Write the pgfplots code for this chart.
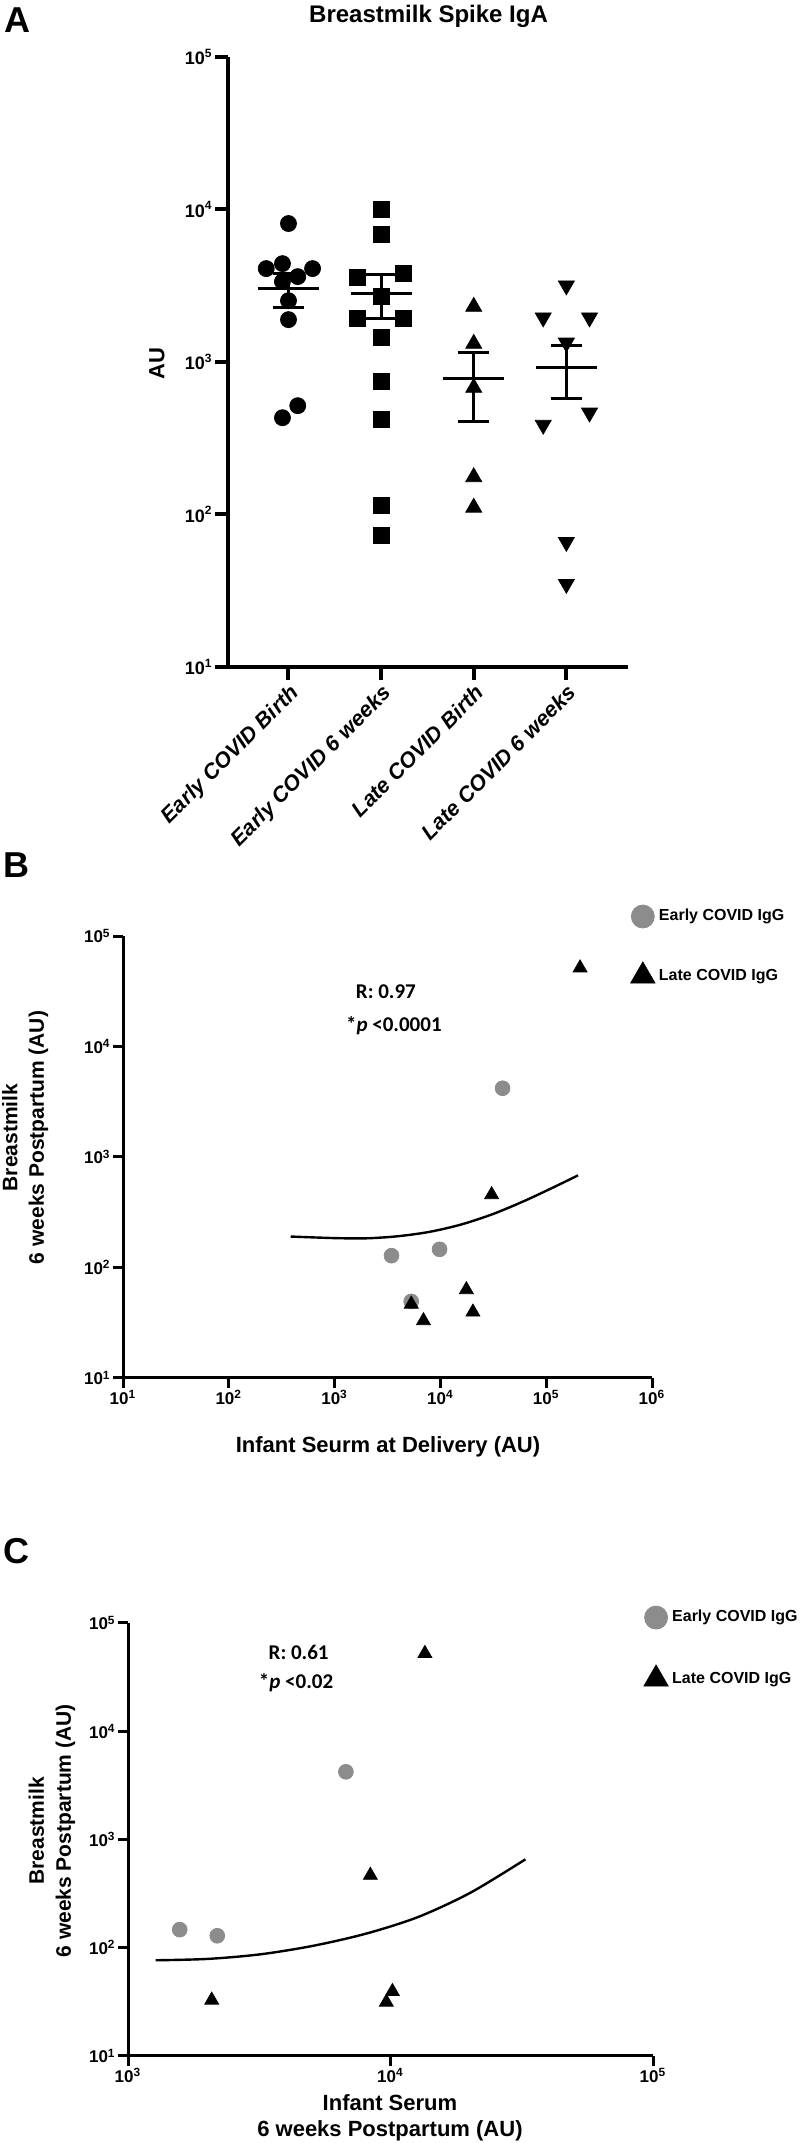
\documentclass[border=0pt]{standalone}
\usepackage{fontspec}
\setmainfont{Liberation Sans}
\newfontfamily\carlito{Carlito}
\usepackage{pgfplots}
\pgfplotsset{compat=1.18}
\definecolor{mygray}{RGB}{140,140,140}
\newcommand{\tl}[1]{10\textsuperscript{#1}}

\begin{document}
\begin{tikzpicture}
\useasboundingbox (0,0) rectangle (400pt,1071.5pt);

\node[anchor=base west, inner sep=0pt, font=\bfseries\fontsize{18}{18}\selectfont] at (2pt,1055pt) {A};
\node[anchor=base west, inner sep=0pt, font=\bfseries\fontsize{18}{18}\selectfont] at (1.5pt,632.5pt) {B};
\node[anchor=base west, inner sep=0pt, font=\bfseries\fontsize{18}{18}\selectfont] at (1.5pt,289.5pt) {C};

% ---------------- Panel A ----------------
\begin{axis}[
  at={(114pt,738pt)}, anchor=south west,
  scale only axis, width=199.75pt, height=305pt,
  ymode=log, ymin=10, ymax=100000,
  xmin=-0.653, xmax=3.66,
  axis x line=bottom, axis y line=left,
  axis line style={line width=2pt,-},
  tick style={line width=2pt, black},
  major tick length=6.5pt, tick align=outside,
  ytick={10,100,1000,10000,100000},
  yticklabels={\tl{1},\tl{2},\tl{3},\tl{4},\tl{5}},
  yminorticks=false,
  xtick={0,1,2,3},
  xticklabels={Early COVID Birth, Early COVID 6 weeks, Late COVID Birth, Late COVID 6 weeks},
  xticklabel style={rotate=45, anchor=north east, font=\bfseries\itshape\fontsize{10.8}{12}\selectfont, inner sep=1pt},
  yticklabel style={font=\bfseries\fontsize{9}{9}\selectfont, inner sep=1pt},
  ylabel={AU},
  ylabel style={at={(axis description cs:-0.178,0.498)}, anchor=center, font=\bfseries\fontsize{11}{11}\selectfont},
  clip=false,
]
\node[anchor=base, inner sep=0pt, font=\bfseries\fontsize{12}{12}\selectfont] at (axis description cs:0.502,1.057) {Breastmilk Spike IgA};
% mean and SEM
\addplot[black, line width=1.5pt, unbounded coords=jump] coordinates {
 (-0.33,3027) (0.33,3027) (0,nan) (0,2270) (0,3802) (0,nan)
 (-0.17,2270) (0.17,2270) (0,nan) (-0.17,3802) (0.17,3802)};
\addplot[black, line width=1.5pt, unbounded coords=jump] coordinates {
 (0.67,2805) (1.33,2805) (1,nan) (1,1923) (1,3740) (1,nan)
 (0.83,1923) (1.17,1923) (1,nan) (0.83,3740) (1.17,3740)};
\addplot[black, line width=1.5pt, unbounded coords=jump] coordinates {
 (1.67,776) (2.33,776) (2,nan) (2,405) (2,1151) (2,nan)
 (1.83,405) (2.17,405) (2,nan) (1.83,1151) (2.17,1151)};
\addplot[black, line width=1.5pt, unbounded coords=jump] coordinates {
 (2.67,916) (3.33,916) (3,nan) (3,574) (3,1279) (3,nan)
 (2.83,574) (3.17,574) (3,nan) (2.83,1279) (3.17,1279)};
% points
\addplot[only marks, mark=*, mark size=4pt, black] coordinates {
 (0,8090) (-0.065,4416) (-0.24,4096) (0.26,4096) (0.1,3628) (-0.065,3365)
 (0,2524) (0,1895) (0.1,517) (-0.065,431)};
\addplot[only marks, mark=square*, mark size=4pt, black] coordinates {
 (1,10000) (1,6850) (0.74,3575) (1.24,3800) (1,2685) (0.74,1923) (1.24,1923)
 (1,1443) (1,741) (1,418) (1,115) (1,73)};
\addplot[only marks, mark=triangle*, mark size=4.6pt, black] coordinates {
 (2,2305) (2,1318) (2,678) (2,176) (2,111)};
\addplot[only marks, mark=triangle*, mark size=4.6pt, black, mark options={rotate=180}] coordinates {
 (3,3170) (2.75,1955) (3.25,1955) (3,1337) (3.25,465) (2.75,387) (3,66) (3,35)};
\end{axis}

% ---------------- Panel B ----------------
\begin{axis}[
  at={(61.5pt,382.5pt)}, anchor=south west,
  scale only axis, width=264.5pt, height=221pt,
  xmode=log, ymode=log, xmin=10, xmax=1000000, ymin=10, ymax=100000,
  axis x line=bottom, axis y line=left,
  axis line style={line width=1.5pt,-},
  tick style={line width=1.5pt, black},
  major tick length=5pt, tick align=outside,
  xtick={10,100,1000,10000,100000,1000000},
  xticklabels={\tl{1},\tl{2},\tl{3},\tl{4},\tl{5},\tl{6}},
  ytick={10,100,1000,10000,100000},
  yticklabels={\tl{1},\tl{2},\tl{3},\tl{4},\tl{5}},
  xminorticks=false, yminorticks=false,
  ticklabel style={font=\bfseries\fontsize{8.5}{8.5}\selectfont, inner sep=1pt},
  xlabel={Infant Seurm at Delivery (AU)},
  xlabel style={at={(axis description cs:0.501,-0.156)}, anchor=center, font=\bfseries\fontsize{11}{11}\selectfont},
  ylabel={Breastmilk\\6 weeks Postpartum (AU)},
  ylabel style={at={(axis description cs:-0.185,0.544)}, anchor=center, align=center, font=\bfseries\fontsize{10.5}{13.25}\selectfont},
  clip=false,
  legend image code/.code={\draw[#1] plot coordinates {(0pt,0pt)};},
  legend style={at={(axis description cs:0.959,1.071)}, anchor=north west, draw=none, fill=none,
    inner sep=0pt, row sep=17pt, font=\bfseries\fontsize{8}{8}\selectfont,
    /tikz/every even column/.append style={column sep=3pt}},
  legend cell align=left,
]
\addplot[forget plot, black, line width=1.2pt, smooth] coordinates {
 (385,190.6) (1000,184.5) (1995,183.7) (3981,191.9) (7943,210.4) (15850,245.5)
 (31620,305.5) (63100,402.7) (125900,549.5) (200000,682.3)};
\addplot[forget plot, only marks, mark=*, mark size=3.7pt, mygray] coordinates {
 (3450,128) (9820,146) (5300,49.3) (38700,4190)};
\addplot[forget plot, only marks, mark=triangle*, mark size=4pt, black] coordinates {
 (209000,51400) (30500,456) (17600,63) (20300,39.5) (5300,46.6) (6920,33.0)};
\addlegendimage{only marks, mark=*, mark size=5.75pt, mygray}
\addlegendentry{Early COVID IgG}
\addlegendimage{only marks, mark=triangle*, mark size=7pt, black}
\addlegendentry{Late COVID IgG}
\node[anchor=base, inner sep=0pt, font=\carlito\bfseries\fontsize{10.5}{10.5}\selectfont] at (axis description cs:0.497,0.858) {R: 0.97};
\node[anchor=base, inner sep=0pt, font=\carlito\bfseries\fontsize{10.5}{10.5}\selectfont] at (axis description cs:0.512,0.783) {*\textit{p} <0.0001};
\end{axis}

% ---------------- Panel C ----------------
\begin{axis}[
  at={(64pt,43.5pt)}, anchor=south west,
  scale only axis, width=262.5pt, height=216.5pt,
  xmode=log, ymode=log, xmin=1000, xmax=100000, ymin=10, ymax=100000,
  axis x line=bottom, axis y line=left,
  axis line style={line width=1.5pt,-},
  tick style={line width=1.5pt, black},
  major tick length=5pt, tick align=outside,
  xtick={1000,10000,100000},
  xticklabels={\tl{3},\tl{4},\tl{5}},
  ytick={10,100,1000,10000,100000},
  yticklabels={\tl{1},\tl{2},\tl{3},\tl{4},\tl{5}},
  xminorticks=false, yminorticks=false,
  ticklabel style={font=\bfseries\fontsize{8.5}{8.5}\selectfont, inner sep=1pt},
  xlabel={Infant Serum\\6 weeks Postpartum (AU)},
  xlabel style={at={(axis description cs:0.499,-0.143)}, anchor=center, align=center, font=\bfseries\fontsize{11}{13}\selectfont},
  ylabel={Breastmilk\\6 weeks Postpartum (AU)},
  ylabel style={at={(axis description cs:-0.145,0.52)}, anchor=center, align=center, font=\bfseries\fontsize{10.5}{13.5}\selectfont},
  clip=false,
  legend image code/.code={\draw[#1] plot coordinates {(0pt,0pt)};},
  legend style={at={(axis description cs:0.982,1.040)}, anchor=north west, draw=none, fill=none,
    inner sep=0pt, row sep=18pt, font=\bfseries\fontsize{8}{8}\selectfont,
    /tikz/every even column/.append style={column sep=2.5pt}},
  legend cell align=left,
]
\addplot[forget plot, black, line width=1.2pt, smooth] coordinates {
 (1274,76.6) (2018,78.9) (3199,87.0) (5070,104.2) (8035,134.6) (12740,192.3)
 (20180,322.8) (32660,656.1)};
\addplot[forget plot, only marks, mark=*, mark size=3.7pt, mygray] coordinates {
 (1574,147) (2188,129) (6761,4217)};
\addplot[forget plot, only marks, mark=triangle*, mark size=4pt, black] coordinates {
 (13520,52300) (8380,467) (2084,32.8) (9640,31.4) (10170,39.4)};
\addlegendimage{only marks, mark=*, mark size=5.75pt, mygray}
\addlegendentry{Early COVID IgG}
\addlegendimage{only marks, mark=triangle*, mark size=7pt, black}
\addlegendentry{Late COVID IgG}
\node[anchor=base, inner sep=0pt, font=\carlito\bfseries\fontsize{10.5}{10.5}\selectfont] at (axis description cs:0.325,0.915) {R: 0.61};
\node[anchor=base, inner sep=0pt, font=\carlito\bfseries\fontsize{10.5}{10.5}\selectfont] at (axis description cs:0.32,0.848) {*\textit{p} <0.02};
\end{axis}
\end{tikzpicture}
\end{document}
